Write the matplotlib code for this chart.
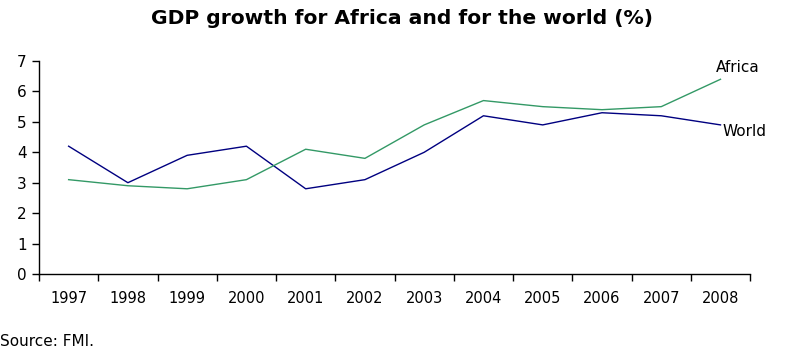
import numpy as np
from matplotlib import pyplot as plt

years = ["1997", "1998", "1999", "2000", "2001", "2002",
         "2003", "2004", "2005", "2006", "2007", "2008"]
world = [4.2, 3.0, 3.9, 4.2, 2.8, 3.1, 4.0, 5.2, 4.9, 5.3, 5.2, 4.9]
africa = [3.1, 2.9, 2.8, 3.1, 4.1, 3.8, 4.9, 5.7, 5.5, 5.4, 5.5, 6.4]

fig = plt.figure(figsize=(8.04, 3.6), dpi=100)
ax = fig.add_axes([0.0485, 0.239, 0.8845, 0.5915])

x = np.arange(len(years))
ax.plot(x, world, color="#000080", lw=1.0)
ax.plot(x, africa, color="#339966", lw=1.0)

ax.set_xlim(-0.5, len(years) - 0.5)
ax.set_ylim(0, 7)

ax.set_xticks(x)
ax.set_xticklabels(years, fontsize=10.5)
ax.set_xticks(np.arange(-0.5, len(years)), minor=True)
ax.tick_params(axis="x", which="major", length=0, pad=12)
ax.tick_params(axis="x", which="minor", length=5, width=1, direction="out")

ax.set_yticks(range(8))
ax.set_yticklabels([str(v) for v in range(8)], fontsize=11)
ax.tick_params(axis="y", length=5, width=1, pad=4)

for s in ["top", "right"]:
    ax.spines[s].set_visible(False)
for s in ["left", "bottom"]:
    ax.spines[s].set_linewidth(1)

# end-of-line labels
ax.text(len(years) - 1 - 0.08, 6.64, "Africa", fontsize=11,
        ha="left", va="baseline", clip_on=False)
ax.text(len(years) - 1 + 0.04, 4.67, "World", fontsize=11,
        ha="left", va="center", clip_on=False)

fig.text(0.5, 0.95, "GDP growth for Africa and for the world (%)",
         fontsize=14.6, fontweight="bold", ha="center", va="center")
fig.text(0.0, 0.052, "Source: FMI.", fontsize=11, ha="left", va="center")

fig.savefig("out.png", dpi=100)
